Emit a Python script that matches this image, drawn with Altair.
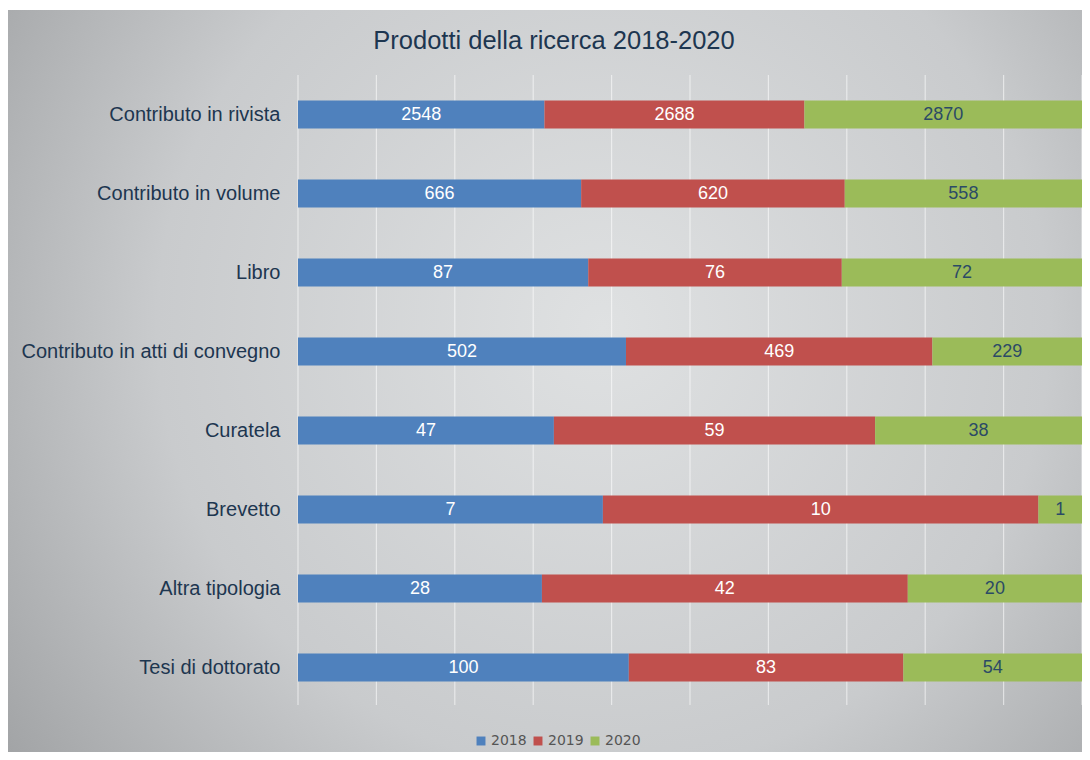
import altair as alt
import pandas as pd

categories = ["Contributo in rivista", "Contributo in volume", "Libro",
              "Contributo in atti di convegno", "Curatela", "Brevetto",
              "Altra tipologia", "Tesi di dottorato"]
years = ["2018", "2019", "2020"]
v2018 = [2548, 666, 87, 502, 47, 7, 28, 100]
v2019 = [2688, 620, 76, 469, 59, 10, 42, 83]
v2020 = [2870, 558, 72, 229, 38, 1, 20, 54]
title_text = "Prodotti della ricerca 2018-2020"

rows = []
for i, c in enumerate(categories):
    for y, vals in zip(years, [v2018, v2019, v2020]):
        rows.append({"cat": c, "year": y, "v": vals[i], "order": years.index(y)})
df = pd.DataFrame(rows)

W, H = 784, 632
PL, PT, PR, PB = 290, 67, 0, 45

colors = ["#4f81bd", "#c0504d", "#9bbb59"]
FONT = "Liberation Sans"

base = alt.Chart(df).transform_joinaggregate(
    total="sum(v)", groupby=["cat"]
).transform_window(
    cum="sum(v)", groupby=["cat"], sort=[alt.SortField("order")],
    frame=[None, 0]
).transform_calculate(
    x1="(datum.cum - datum.v) / datum.total",
    x2="datum.cum / datum.total",
    xm="(datum.cum - datum.v / 2) / datum.total",
    tcol="datum.year == '2020' ? 'dark' : 'light'"
)

yenc = alt.Y("cat:N", sort=categories, title=None,
             scale=alt.Scale(paddingInner=0.645, paddingOuter=0.3225),
             axis=alt.Axis(labelFont=FONT, labelFontSize=20, labelColor="#1d3650",
                           labelPadding=18, labelLimit=320, ticks=False, domain=False,
                           grid=False, zindex=1))

xscale = alt.Scale(domain=[0, 1], nice=False, zero=True)

bg = alt.Chart(pd.DataFrame({"a": [0]})).mark_rect(
    fill={"gradient": "radial", "x1": 0.55, "y1": 0.45, "x2": 0.55, "y2": 0.45,
          "r1": 0, "r2": 0.75,
          "stops": [{"offset": 0, "color": "#dfe1e2"},
                    {"offset": 0.55, "color": "#c9cbcd"},
                    {"offset": 1, "color": "#97999b"}]}
).encode(
    x=alt.value(-PL), x2=alt.value(W + PR + 8),
    y=alt.value(-PT + 2), y2=alt.value(H + PB)
)

title = alt.Chart(pd.DataFrame({"t": [title_text]})).mark_text(
    font=FONT, fontSize=25.5, color="#1d3650", align="center", baseline="middle"
).encode(text="t:N", x=alt.value(256), y=alt.value(-34))

grid = alt.Chart(pd.DataFrame({"g": [i / 10 for i in range(11)]})).mark_rule(
    color="#ffffff", opacity=0.55, strokeWidth=1.2
).encode(
    x=alt.X("g:Q", scale=xscale, axis=None),
    y=alt.value(0), y2=alt.value(H - 2)
)

bars = base.mark_bar().encode(
    x=alt.X("x1:Q", scale=xscale, axis=None),
    x2="x2:Q",
    y=yenc,
    color=alt.Color("year:N", scale=alt.Scale(domain=years, range=colors),
                    legend=alt.Legend(title=None, orient="none", direction="horizontal",
                                      legendX=176, legendY=659, symbolType="square",
                                      symbolSize=80, symbolStrokeWidth=0,
                                      labelFont="DejaVu Sans", labelFontSize=14,
                                      labelColor="#555555", columnPadding=4,
                                      labelOffset=3))
)

texts = base.mark_text(font=FONT, fontSize=18, baseline="middle").encode(
    x=alt.X("xm:Q", scale=xscale),
    y=alt.Y("cat:N", sort=categories),
    text="v:Q",
    color=alt.Color("tcol:N", scale=alt.Scale(domain=["light", "dark"],
                                              range=["#ffffff", "#2b4a66"]),
                    legend=None)
)

chart = alt.layer(bg, title, grid, bars, texts).resolve_scale(color="independent").properties(
    width=W, height=H,
    autosize=alt.AutoSizeParams(type="none"),
    padding={"left": PL, "top": PT, "right": PR, "bottom": PB},
    background="#ffffff"
).configure_view(stroke=None)

chart.save("out.html", embed_options={"renderer": "svg", "actions": False})
